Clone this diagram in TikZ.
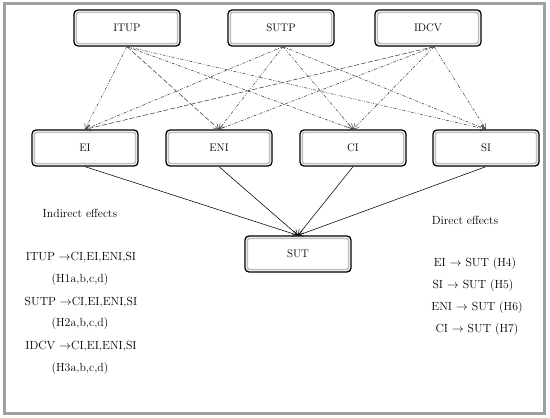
\documentclass[tikz,border=0pt]{standalone}
\usetikzlibrary{arrows.meta}
\begin{document}
\begin{tikzpicture}[x=1pt,y=-1pt,
  box/.style={draw=black,line width=1.3pt,rounded corners=4pt,minimum width=106pt,minimum height=36pt,inner sep=0pt,font=\fontsize{11}{13}\selectfont,
    path picture={\draw[gray!50,line width=1.6pt,rounded corners=2.5pt] ([shift={(2.4pt,-2.4pt)}]path picture bounding box.north west) rectangle ([shift={(-2.4pt,2.4pt)}]path picture bounding box.south east);}},
  lnk/.style={draw=black!75,line width=0.55pt,-{Straight Barb[length=5pt,width=6pt]}},
  dd/.style={dash pattern=on 3pt off 1.5pt on 0.8pt off 1.5pt on 0.8pt off 1.5pt},
  da/.style={dash pattern=on 5pt off 2pt},
  dt/.style={dash pattern=on 3pt off 1.5pt on 0.8pt off 1.5pt},
  lab/.style={font=\fontsize{11.8}{13}\selectfont,inner sep=0pt}]
\useasboundingbox (0,0) rectangle (550,418);
\draw[gray!75,line width=3pt] (4.5,3.5) rectangle (544.5,413);
\node[box] (itup) at (127,28) {ITUP};
\node[box] (sutp) at (281,28) {SUTP};
\node[box] (idcv) at (428,28) {IDCV};
\node[box] (ei) at (85,148) {EI};
\node[box] (eni) at (219,148) {ENI};
\node[box] (ci) at (353,148) {CI};
\node[box] (si) at (486,148) {SI};
\node[box] (sut) at (298,254) {SUT};
% dashed links
\draw[lnk,dd] (itup.south) -- (ei.north);
\draw[lnk,da] (itup.south) -- (eni.north);
\draw[lnk,dt] (itup.south) -- (ci.north);
\draw[lnk,dd] (itup.south) -- (si.north);
\draw[lnk,dt] ([xshift=2pt]sutp.south) -- (ei.north);
\draw[lnk,dd] ([xshift=2pt]sutp.south) -- (eni.north);
\draw[lnk,dd] ([xshift=2pt]sutp.south) -- (ci.north);
\draw[lnk,dt] ([xshift=2pt]sutp.south) -- (si.north);
\draw[lnk,da] ([xshift=6pt]idcv.south) -- (ei.north);
\draw[lnk,dt] ([xshift=6pt]idcv.south) -- (eni.north);
\draw[lnk,dd] ([xshift=6pt]idcv.south) -- (ci.north);
\draw[lnk,dd] ([xshift=6pt]idcv.south) -- (si.north);
% solid links
\draw[lnk,black] (ei.south) -- (sut.north);
\draw[lnk,black] (eni.south) -- (sut.north);
\draw[lnk,black] (ci.south) -- (sut.north);
\draw[lnk,black] (si.south) -- (sut.north);
% texts
\node[lab] (ind) at (80,213) {Indirect effects};
\node[lab] (i1) at (81,257) {ITUP $\rightarrow$CI,EI,ENI,SI};
\node[lab] (i2) at (80,280) {(H1a,b,c,d)};
\node[lab] (i3) at (81,302) {SUTP $\rightarrow$CI,EI,ENI,SI};
\node[lab] (i4) at (80,324) {(H2a,b,c,d)};
\node[lab] (i5) at (81,346) {IDCV $\rightarrow$CI,EI,ENI,SI};
\node[lab] (i6) at (80,369) {(H3a,b,c,d)};
\node[lab] (dir) at (465,220) {Direct effects};
\node[lab] (d1) at (475,264) {EI $\rightarrow$ SUT (H4)};
\node[lab] (d2) at (473,286) {SI $\rightarrow$ SUT (H5)};
\node[lab] (d3) at (477,308) {ENI $\rightarrow$ SUT (H6)};
\node[lab] (d4) at (477,330) {CI $\rightarrow$ SUT (H7)};
\end{tikzpicture}
\end{document}
